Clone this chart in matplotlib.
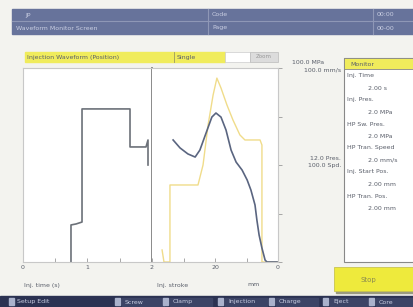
import matplotlib.pyplot as plt
from matplotlib.patches import Rectangle

# left panel: injection time (s) vs. speed setting (%)
step_time = [0.744, 0.744, 0.822, 0.915, 0.915, 1.659, 1.659, 1.907, 1.938, 1.938]
step_level = [0.0, 19.1, 19.6, 20.6, 78.9, 78.9, 59.3, 59.3, 62.9, 50.0]

# right panel: injection stroke (mm) vs. level (%)
press_stroke = [33.3, 31.1, 28.6, 26.3, 24.8, 22.5, 21.0, 19.7, 18.1, 16.5, 14.9,
                13.3, 11.4, 9.8, 8.6, 7.3, 6.7, 6.0, 5.1, 4.1, 3.5, 0.3]
press_level = [62.9, 58.8, 55.7, 54.1, 57.7, 68.0, 74.7, 76.8, 74.7, 68.0, 57.7,
               51.5, 47.4, 42.3, 37.1, 29.4, 21.6, 13.9, 7.2, 1.0, 0.0, 0.0]

speed_stroke = [36.8, 36.2, 34.3, 34.3, 25.4, 23.8, 22.2, 20.6, 19.4, 18.1, 16.2,
                14.3, 12.1, 10.5, 5.7, 5.1, 5.1, 0.0]
speed_level = [6.2, 0.0, 0.0, 39.7, 39.7, 50.0, 70.6, 86.1, 94.8, 89.7, 80.9,
               73.2, 65.5, 62.9, 62.9, 60.3, 0.0, 0.0]

monitor_rows = ['Inj. Time', '2.00 s', 'Inj. Pres.', '2.0 MPa', 'HP Sw. Pres.', '2.0 MPa',
                'HP Tran. Speed', '2.0 mm/s', 'Inj. Start Pos.', '2.00 mm',
                'HP Tran. Pos.', '2.00 mm']
menu_labels = ['Screw', 'Clamp', 'Injection', 'Charge', 'Eject', 'Core']
menu_x = [119, 167, 222, 273, 327, 373]

W, H = 413, 307
BG = '#f3f3ef'
TXT = '#5a5f6a'


def box(x0, y0, x1, y1):
    return [x0 / W, 1 - y1 / H, (x1 - x0) / W, (y1 - y0) / H]


fig = plt.figure(figsize=(W / 100, H / 100), dpi=100)
fig.patch.set_facecolor(BG)

# screen furniture in pixel coordinates
bg = fig.add_axes([0, 0, 1, 1])
bg.set_xlim(0, W)
bg.set_ylim(H, 0)
bg.axis('off')

bg.add_patch(Rectangle((12, 9), W - 12, 25, color='#67739b'))
bg.plot([12, W], [21, 21], color='#8e97b6', lw=0.8)
bg.plot([208, 208], [9, 34], color='#8e97b6', lw=0.8)
bg.plot([373, 373], [9, 34], color='#8e97b6', lw=0.8)
for x, y, s in [(25, 15, 'JP'), (16, 28, 'Waveform Monitor Screen'),
                (212, 15, 'Code'), (212, 28, 'Page'),
                (377, 15, '00:00'), (377, 28, '00-00')]:
    bg.text(x, y, s, color='#c9cee2', fontsize=4.5, va='center')

bg.add_patch(Rectangle((25, 52), 200, 10, color='#f0ec5c'))
bg.plot([174, 174], [52, 62], color='#9a9a60', lw=0.6)
bg.add_patch(Rectangle((225, 52), 25, 10, facecolor='white', edgecolor='#cccccc', lw=0.5))
bg.add_patch(Rectangle((250, 52), 28, 10, facecolor='#dcdcdc', edgecolor='#bbbbbb', lw=0.5))
bg.text(27, 57, 'Injection Waveform (Position)', fontsize=4.5, color=TXT, va='center')
bg.text(177, 57, 'Single', fontsize=4.5, color=TXT, va='center')
bg.text(264, 57, 'Zoom', fontsize=4, color='#999999', va='center', ha='center')

bg.text(292, 63, '100.0 MPa', fontsize=4.5, color=TXT, va='center')
bg.text(341, 70, '100.0 mm/s', fontsize=4.5, color=TXT, va='center', ha='right')
bg.text(341, 158, '12.0 Pres.', fontsize=4.5, color=TXT, va='center', ha='right')
bg.text(341, 166, '100.0 Spd.', fontsize=4.5, color=TXT, va='center', ha='right')

bg.add_patch(Rectangle((344, 58), 75, 204, facecolor='white', edgecolor='#888888', lw=0.8))
bg.add_patch(Rectangle((344, 58), 75, 11, facecolor='#f0ec5c', edgecolor='#888888', lw=0.6))
bg.text(350, 64, 'Monitor', fontsize=4.5, color=TXT, va='center')
for i, s in enumerate(monitor_rows):
    x = 347 if i % 2 == 0 else 368
    bg.text(x, 76 + 12 * i, s, fontsize=4.5, color=TXT, va='center')

bg.add_patch(Rectangle((336, 269), 80, 24, color='#9a9a80'))
bg.add_patch(Rectangle((334, 267), 80, 24, facecolor='#eeea3c', edgecolor='#c8c450', lw=0.6))
bg.text(368, 280, 'Stop', fontsize=5, color='#8a8a50', va='center', ha='center')

bg.add_patch(Rectangle((0, 296), W, 11, color='#2b3252'))
bg.add_patch(Rectangle((9, 298), 5, 7, color='#aab2cc'))
bg.text(17, 302, 'Setup Edit', fontsize=4.5, color='#c9cee2', va='center')
for x, s in zip(menu_x, menu_labels):
    bg.add_patch(Rectangle((x - 4, 298), 5, 7, color='#aab2cc'))
    bg.add_patch(Rectangle((x + 3, 298), 42, 8, color='#3c4466'))
    bg.text(x + 6, 302, s, fontsize=4.5, color='#c9cee2', va='center')

# waveform panels
ax1 = fig.add_axes(box(23, 68, 152, 262))
ax2 = fig.add_axes(box(152, 68, 278, 262))
for ax in (ax1, ax2):
    ax.set_facecolor('white')
    ax.set_ylim(0, 100)
    for sp in ax.spines.values():
        sp.set_color('#c8c8c8')
        sp.set_linewidth(0.8)
    ax.tick_params(labelsize=4.5, colors='#9a9a9a', length=3, width=0.6,
                   direction='in', pad=2, labelcolor=TXT)
    ax.set_yticks([])

ax1.set_xlim(0, 2)
ax1.set_xticks([0, 0.5, 1, 1.5, 2])
ax1.set_xticklabels(['0', '', '1', '', '2'])
ax1.spines['right'].set_color('#8a8a8a')
ax1.spines['right'].set_linewidth(1.4)
ax1.plot(step_time, step_level, color='#6c7179', lw=1.2)

ax2.set_xlim(40, 0)
ax2.set_xticks([40, 30, 20, 10, 0])
ax2.set_xticklabels(['', '', '20', '', '0'])
ax2.spines['left'].set_visible(False)
ax2.yaxis.tick_right()
ax2.set_yticks([0, 25, 50, 75, 100])
ax2.set_yticklabels([])
ax2.tick_params(axis='y', direction='out')
ax2.plot(speed_stroke, speed_level, color='#f0dc8a', lw=1.0)
ax2.plot(press_stroke, press_level, color='#5a6580', lw=1.2)

fig.text(24 / W, 1 - 285 / H, 'Inj. time (s)', fontsize=4.5, color=TXT, va='center')
fig.text(157 / W, 1 - 285 / H, 'Inj. stroke', fontsize=4.5, color=TXT, va='center')
fig.text(247 / W, 1 - 285 / H, 'mm', fontsize=4.5, color=TXT, va='center')

fig.savefig('out.png', dpi=100, facecolor=BG)
